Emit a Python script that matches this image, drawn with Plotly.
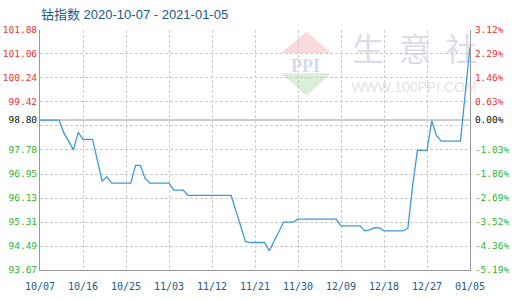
import plotly.graph_objects as go
from datetime import date, timedelta

# Cobalt index, daily closes 2020-10-07 .. 2021-01-05
start_day = date(2020, 10, 7)
index_values = [
    98.80, 98.80, 98.80, 98.80, 98.80, 98.36, 98.08, 97.78, 98.38, 98.14,   # 10/07-10/16
    98.14, 98.14, 97.43, 96.71, 96.86, 96.64, 96.64, 96.64, 96.64, 96.64,   # 10/17-10/26
    97.25, 97.25, 96.80, 96.64, 96.64, 96.64, 96.64, 96.64, 96.40, 96.40,   # 10/27-11/05
    96.40, 96.22, 96.22, 96.22, 96.22, 96.22, 96.22, 96.22, 96.22, 96.22,   # 11/06-11/15
    96.22, 95.70, 95.16, 94.65, 94.61, 94.61, 94.61, 94.61, 94.33, 94.67,   # 11/16-11/25
    95.00, 95.31, 95.31, 95.31, 95.41, 95.41, 95.41, 95.41, 95.41, 95.41,   # 11/26-12/05
    95.41, 95.41, 95.41, 95.18, 95.18, 95.18, 95.18, 95.18, 95.01, 95.04,   # 12/06-12/15
    95.12, 95.11, 95.01, 95.01, 95.01, 95.01, 95.01, 95.10, 96.57, 97.76,   # 12/16-12/25
    97.76, 97.76, 98.78, 98.26, 98.08, 98.08, 98.08, 98.08, 98.08, 99.70,   # 12/26-01/04
    101.30,                                                                 # 01/05
]
dates = [(start_day + timedelta(days=i)).isoformat() for i in range(len(index_values))]

base_value = 98.80
y_ticks = [93.67, 94.49, 95.31, 96.13, 96.95, 97.78, 98.60, 98.80,
           99.42, 100.24, 101.06, 101.88]
left_labels = ["93.67", "94.49", "95.31", "96.13", "96.95", "97.78", "", "98.80",
               "99.42", "100.24", "101.06", "101.88"]
right_labels = ["-5.19%", "-4.36%", "-3.52%", "-2.69%", "-1.86%", "-1.03%", "", "0.00%",
                "0.63%", "1.46%", "2.29%", "3.12%"]

x_tick_dates = ["2020-10-07", "2020-10-16", "2020-10-25", "2020-11-03", "2020-11-12",
                "2020-11-21", "2020-11-30", "2020-12-09", "2020-12-18", "2020-12-27",
                "2021-01-05"]
x_tick_labels = ["10/07", "10/16", "10/25", "11/03", "11/12", "11/21",
                 "11/30", "12/09", "12/18", "12/27", "01/05"]

RED = "#ee3333"
GREEN = "#33b333"
BLACK = "#111111"
BLUE_TEXT = "#1e5a8c"
LINE = "#3d9ad6"
AXIS = "#999999"
GRID = "#cccccc"


def colored(labels):
    out = []
    for v, t in zip(y_ticks, labels):
        c = RED if v > base_value + 1e-9 else (GREEN if v < base_value - 1e-9 else BLACK)
        out.append(f'<span style="color:{c}">{t}</span>' if t else "")
    return out


W, H = 520, 300
ML, MR, MT, MB = 40, 50, 30, 30
PW, PH = W - ML - MR, H - MT - MB


def px(x):
    return (x - ML) / PW


def py(y):
    return (H - MB - y) / PH


fig = go.Figure()
fig.add_trace(go.Scatter(
    x=dates, y=index_values, mode="lines",
    line=dict(color=LINE, width=1.3), hoverinfo="skip", showlegend=False,
))
# invisible trace to anchor the right-hand percent axis
fig.add_trace(go.Scatter(
    x=[dates[0]], y=[base_value], yaxis="y2", mode="markers",
    marker=dict(opacity=0), hoverinfo="skip", showlegend=False,
))

mono = "DejaVu Sans Mono"
fig.update_layout(
    width=W, height=H,
    margin=dict(l=ML, r=MR, t=MT, b=MB, pad=0, autoexpand=False),
    paper_bgcolor="white", plot_bgcolor="white",
    xaxis=dict(
        type="date", range=[x_tick_dates[0], x_tick_dates[-1]],
        tickvals=x_tick_dates, ticktext=x_tick_labels,
        tickfont=dict(family=mono, size=10, color=BLUE_TEXT),
        ticklabelstandoff=7, automargin=False,
        showgrid=True, gridcolor=GRID, griddash="3px,2px", gridwidth=1,
        showline=True, linecolor=AXIS, linewidth=1,
        ticks="", zeroline=False, fixedrange=True,
    ),
    yaxis=dict(
        range=[y_ticks[0], y_ticks[-1]],
        tickvals=y_ticks, ticktext=colored(left_labels),
        tickfont=dict(family=mono, size=9.5, color=BLACK),
        automargin=False,
        showgrid=True, gridcolor=GRID, griddash="3px,2px", gridwidth=1,
        showline=True, linecolor=AXIS, linewidth=1,
        ticks="", zeroline=False, fixedrange=True,
    ),
    yaxis2=dict(
        overlaying="y", side="right",
        range=[y_ticks[0], y_ticks[-1]],
        tickvals=y_ticks, ticktext=colored(right_labels),
        tickfont=dict(family=mono, size=9.5, color=BLACK),
        ticklabelstandoff=2, automargin=False,
        showgrid=False, showline=True, linecolor=AXIS, linewidth=1,
        ticks="", zeroline=False, fixedrange=True,
    ),
)

# base line at the opening value
fig.add_shape(type="line", xref="paper", yref="y", x0=0, x1=1,
              y0=base_value, y1=base_value, layer="between",
              line=dict(color=AXIS, width=1))

# faint watermark under the grid
fig.add_shape(type="path", xref="paper", yref="paper", layer="below",
              path=f"M {px(280.7)},{py(53)} L {px(306.7)},{py(31.7)} L {px(330.7)},{py(53)} Z",
              fillcolor="#fadada", line=dict(width=0))
fig.add_shape(type="path", xref="paper", yref="paper", layer="below",
              path=f"M {px(280.7)},{py(73.3)} L {px(330.7)},{py(73.3)} L {px(306.7)},{py(95.7)} Z",
              fillcolor="#d9efd9", line=dict(width=0))


def text_box(cx, cy, text, size, color, family, bold=False):
    t = f"<b>{text}</b>" if bold else text
    fig.add_shape(type="rect", xref="paper", yref="paper", layer="below",
                  x0=px(cx - 60), x1=px(cx + 60), y0=py(cy + 15), y1=py(cy - 15),
                  line=dict(width=0), fillcolor="rgba(0,0,0,0)",
                  label=dict(text=t, font=dict(size=size, color=color, family=family),
                             textposition="middle center"))


text_box(305.5, 63.5, "PPI", 18, "#d3dbea", "Liberation Serif", bold=True)
text_box(368, 52, "生", 32, "#d9deea", "Noto Sans CJK SC")
text_box(415, 52, "意", 32, "#d9deea", "Noto Sans CJK SC")
text_box(461, 52, "社", 32, "#d9deea", "Noto Sans CJK SC")
text_box(414, 86, "WWW.100PPI.COM", 14, "#e3e3e3", "Liberation Sans")

fig.add_annotation(
    xref="paper", yref="paper", x=0, y=py(14), xanchor="left", yanchor="middle",
    text="钴指数 2020-10-07 - 2021-01-05", showarrow=False, borderpad=0,
    font=dict(family="Liberation Sans, Noto Sans CJK SC", size=13, color=BLUE_TEXT),
)

fig.write_html("out.html")
